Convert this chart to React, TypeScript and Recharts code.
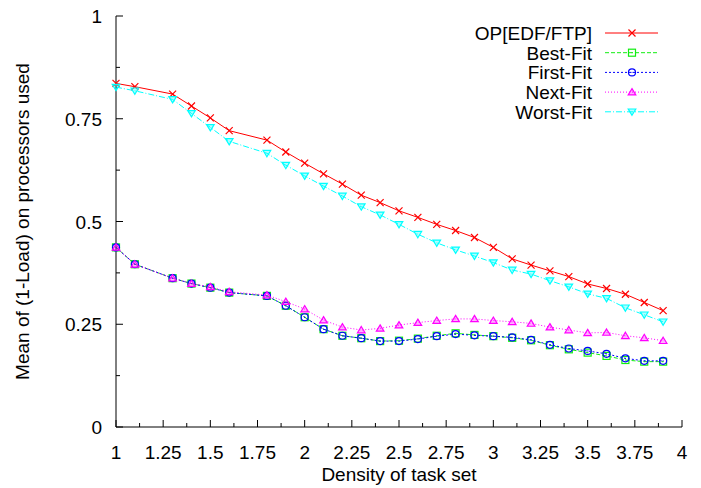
import React from "react";
import { LineChart, Line, XAxis, YAxis, Legend } from "recharts";

// x positions (density of task set)
const density = [
  1, 1.1, 1.3, 1.4, 1.5, 1.6, 1.8, 1.9, 2, 2.1, 2.2, 2.3, 2.4, 2.5, 2.6, 2.7,
  2.8, 2.9, 3, 3.1, 3.2, 3.3, 3.4, 3.5, 3.6, 3.7, 3.8, 3.9,
];

const opEdfFtp = [
  0.836, 0.828, 0.81, 0.781, 0.752, 0.721, 0.698, 0.669, 0.642, 0.616, 0.591,
  0.564, 0.546, 0.526, 0.51, 0.493, 0.478, 0.461, 0.437, 0.409, 0.394, 0.38,
  0.366, 0.348, 0.337, 0.323, 0.303, 0.283,
];
const bestFit = [
  0.437, 0.396, 0.362, 0.349, 0.339, 0.327, 0.319, 0.295, 0.267, 0.238, 0.222,
  0.216, 0.209, 0.21, 0.215, 0.222, 0.228, 0.224, 0.221, 0.217, 0.211, 0.199,
  0.189, 0.181, 0.173, 0.163, 0.159, 0.159,
];
const firstFit = [
  0.437, 0.396, 0.362, 0.349, 0.339, 0.327, 0.319, 0.295, 0.267, 0.238, 0.222,
  0.216, 0.209, 0.209, 0.214, 0.221, 0.226, 0.223, 0.221, 0.218, 0.212, 0.2,
  0.191, 0.185, 0.178, 0.167, 0.161, 0.161,
];
const nextFit = [
  0.437, 0.396, 0.362, 0.349, 0.341, 0.329, 0.321, 0.305, 0.287, 0.26, 0.243,
  0.236, 0.24, 0.248, 0.254, 0.259, 0.263, 0.263, 0.259, 0.256, 0.252, 0.243,
  0.236, 0.229, 0.23, 0.222, 0.217, 0.21,
];
const worstFit = [
  0.827, 0.818, 0.797, 0.763, 0.729, 0.695, 0.666, 0.637, 0.611, 0.586, 0.562,
  0.536, 0.516, 0.493, 0.469, 0.448, 0.431, 0.416, 0.4, 0.382, 0.372, 0.356,
  0.341, 0.324, 0.313, 0.29, 0.273, 0.256,
];

const xMajor = [1, 1.25, 1.5, 1.75, 2, 2.25, 2.5, 2.75, 3, 3.25, 3.5, 3.75, 4];
const xMinor = [1.125, 1.375, 1.625, 1.875, 2.125, 2.375, 2.625, 2.875, 3.125, 3.375, 3.625, 3.875];
const yMajor = [0, 0.25, 0.5, 0.75, 1];
const yMinor = [0.125, 0.375, 0.625, 0.875];

const xTicks = [...xMajor, ...xMinor].sort((a, b) => a - b);
const yTicks = [...yMajor, ...yMinor].sort((a, b) => a - b);

const data = density.map((d, i) => ({
  density: d,
  op: opEdfFtp[i],
  best: bestFit[i],
  first: firstFit[i],
  next: nextFit[i],
  worst: worstFit[i],
}));

const series = [
  { key: "op", name: "OP[EDF/FTP]", color: "#ff0000", dash: undefined, shape: "cross" },
  { key: "best", name: "Best-Fit", color: "#11ee11", dash: "4 2", shape: "square" },
  { key: "first", name: "First-Fit", color: "#0000ff", dash: "2 2", shape: "circle" },
  { key: "next", name: "Next-Fit", color: "#ff00ff", dash: "1 2", shape: "triUp" },
  { key: "worst", name: "Worst-Fit", color: "#00ffff", dash: "6 2 1 2", shape: "triDown" },
];

const FONT = "'Liberation Sans', Arial, Helvetica, sans-serif";
const FS = 19;

const isMajor = (v: number) => Math.abs(v * 4 - Math.round(v * 4)) < 1e-6;

function Marker({ shape, cx, cy, color }: any) {
  if (cx == null || cy == null) return null;
  switch (shape) {
    case "cross":
      return (
        <path
          d={`M${cx - 3.5},${cy - 3.5}L${cx + 3.5},${cy + 3.5}M${cx - 3.5},${cy + 3.5}L${cx + 3.5},${cy - 3.5}`}
          stroke={color}
          strokeWidth={1.2}
          fill="none"
        />
      );
    case "square":
      return (
        <g>
          <rect x={cx - 3.5} y={cy - 3.5} width={7} height={7} fill="none" stroke={color} strokeWidth={1.2} />
          <rect x={cx - 0.5} y={cy - 0.5} width={1} height={1} fill={color} />
        </g>
      );
    case "circle":
      return (
        <g>
          <circle cx={cx} cy={cy} r={3.5} fill="none" stroke={color} strokeWidth={1.2} />
          <rect x={cx - 0.5} y={cy - 0.5} width={1} height={1} fill={color} />
        </g>
      );
    case "triUp":
      return (
        <path
          d={`M${cx},${cy - 3.5}L${cx + 3.8},${cy + 2.8}L${cx - 3.8},${cy + 2.8}Z`}
          fill={color}
          fillOpacity={0.3}
          stroke={color}
          strokeWidth={1.2}
        />
      );
    case "triDown":
      return (
        <path
          d={`M${cx},${cy + 3.5}L${cx + 3.8},${cy - 2.8}L${cx - 3.8},${cy - 2.8}Z`}
          fill={color}
          fillOpacity={0.3}
          stroke={color}
          strokeWidth={1.2}
        />
      );
    default:
      return null;
  }
}

function BottomTick(props: any) {
  const { x, y, payload } = props;
  const major = isMajor(payload.value);
  return (
    <g>
      <line x1={x} x2={x} y1={y} y2={y - (major ? 7 : 4)} stroke="#000" />
      {major && (
        <text x={x} y={y + 32} textAnchor="middle" fontSize={FS} fontFamily={FONT} fill="#000">
          {String(payload.value)}
        </text>
      )}
    </g>
  );
}

function TopTick(props: any) {
  const { x, y, payload } = props;
  const major = isMajor(payload.value);
  return <line x1={x} x2={x} y1={y} y2={y + (major ? 7 : 4)} stroke="#000" />;
}

function LeftTick(props: any) {
  const { x, y, payload } = props;
  const major = isMajor(payload.value);
  return (
    <g>
      <line x1={x} x2={x + (major ? 7 : 4)} y1={y} y2={y} stroke="#000" />
      {major && (
        <text x={x - 14} y={y + 7} textAnchor="end" fontSize={FS} fontFamily={FONT} fill="#000">
          {String(payload.value)}
        </text>
      )}
    </g>
  );
}

function RightTick(props: any) {
  const { x, y, payload } = props;
  const major = isMajor(payload.value);
  return <line x1={x} x2={x - (major ? 7 : 4)} y1={y} y2={y} stroke="#000" />;
}

function renderLegend(props: any) {
  const payload = props.payload || [];
  const items = series.map((s) => payload.find((p: any) => p.value === s.name) || { value: s.name, color: s.color });
  return (
    <svg width={260} height={110} style={{ overflow: "visible" }}>
      {items.map((entry: any, i: number) => {
        const s = series.find((z) => z.name === entry.value) || series[i];
        const y = 13 + i * 19.7;
        return (
          <g key={s.key}>
            <text x={172} y={y + 7} textAnchor="end" fontSize={FS} fontFamily={FONT} fill="#000">
              {s.name}
            </text>
            <line x1={185} x2={238} y1={y} y2={y} stroke={s.color} strokeDasharray={s.dash} />
            <Marker shape={s.shape} cx={212} cy={y} color={s.color} />
          </g>
        );
      })}
    </svg>
  );
}

export default function App() {
  return (
    <div style={{ position: "absolute", left: 0, top: 0, background: "#fff" }}>
      <LineChart
        width={701}
        height={488}
        data={data}
        margin={{ top: 16, right: 19, left: 0, bottom: 0 }}
        style={{ fontFamily: FONT }}
      >
        <XAxis
          dataKey="density"
          type="number"
          domain={[1, 4]}
          ticks={xTicks}
          interval={0}
          height={61}
          tickSize={0}
          tickMargin={0}
          tickLine={false}
          axisLine={{ stroke: "#000" }}
          tick={<BottomTick />}
          label={(p: any) => {
            const vb = p.viewBox;
            return (
              <text x={vb.x + vb.width / 2} y={vb.y + 54} textAnchor="middle" fontSize={FS} fontFamily={FONT} fill="#000">
                Density of task set
              </text>
            );
          }}
        />
        <XAxis
          xAxisId="top"
          orientation="top"
          dataKey="density"
          type="number"
          domain={[1, 4]}
          ticks={xTicks}
          interval={0}
          height={0}
          tickSize={0}
          tickMargin={0}
          tickLine={false}
          axisLine={{ stroke: "#000" }}
          tick={<TopTick />}
        />
        <YAxis
          type="number"
          domain={[0, 1]}
          ticks={yTicks}
          interval={0}
          width={116}
          tickSize={0}
          tickMargin={0}
          tickLine={false}
          axisLine={{ stroke: "#000" }}
          tick={<LeftTick />}
          label={(p: any) => {
            const vb = p.viewBox;
            const cx = vb.x + 29;
            const cy = vb.y + vb.height / 2;
            return (
              <text
                x={cx}
                y={cy}
                transform={`rotate(-90 ${cx} ${cy})`}
                textAnchor="middle"
                fontSize={FS}
                fontFamily={FONT}
                fill="#000"
              >
                Mean of (1-Load) on processors used
              </text>
            );
          }}
        />
        <YAxis
          yAxisId="right"
          orientation="right"
          type="number"
          domain={[0, 1]}
          ticks={yTicks}
          interval={0}
          width={0}
          tickSize={0}
          tickMargin={0}
          tickLine={false}
          axisLine={{ stroke: "#000" }}
          tick={<RightTick />}
        />
        <Legend
          layout="vertical"
          align="center"
          verticalAlign="middle"
          wrapperStyle={{ left: 420, top: 20, width: 260, height: 110 }}
          content={renderLegend}
        />
        {series.map((s) => (
          <Line
            key={s.key}
            dataKey={s.key}
            name={s.name}
            type="linear"
            stroke={s.color}
            strokeWidth={1}
            strokeDasharray={s.dash}
            isAnimationActive={false}
            dot={(p: any) => <Marker key={`${s.key}-${p.index}`} shape={s.shape} cx={p.cx} cy={p.cy} color={s.color} />}
            activeDot={false}
          />
        ))}
      </LineChart>
    </div>
  );
}
